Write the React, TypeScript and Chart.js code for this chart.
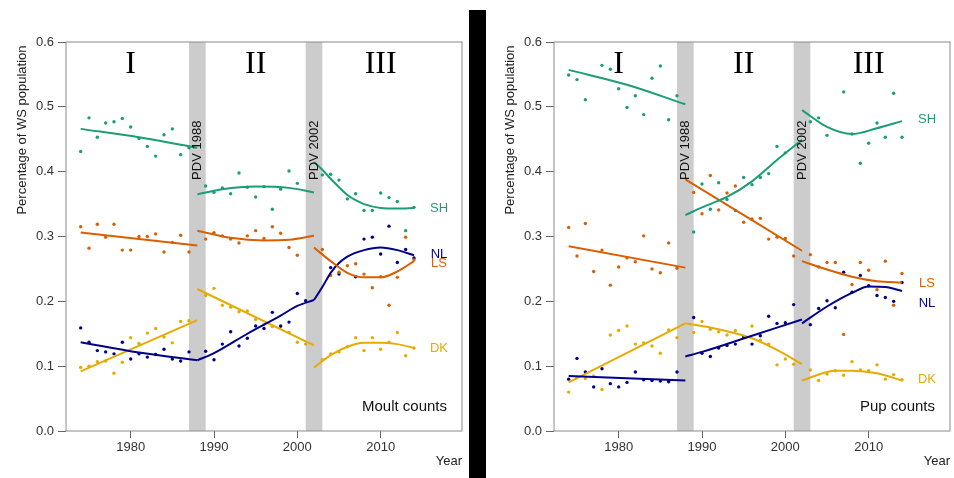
import React, { useEffect, useRef } from "react";
import { Chart, registerables } from "chart.js";
Chart.register(...registerables);

// ---------- data ----------
const years = [
  1974, 1975, 1976, 1977, 1978, 1979, 1980, 1981, 1982, 1983, 1984, 1985, 1986, 1987,
  1989, 1990, 1991, 1992, 1993, 1994, 1995, 1996, 1997, 1998, 1999, 2000, 2001,
  2003, 2004, 2005, 2006, 2007, 2008, 2009, 2010, 2011, 2012, 2013, 2014,
];

const moultSH = [.431, .483, .453, .475, .477, .482, .469, .451, .439, .424, .457, .466, .426, .437,
  .378, .368, .375, .366, .398, .376, .361, .377, .342, .373, .401, .382, null,
  .395, .396, .387, .358, .366, .340, .340, .367, .360, .354, .309, .345];
const moultLS = [.315, .282, .319, .299, .319, .279, .279, .300, .300, .304, .276, .291, .302, .276,
  .296, .306, .301, .296, .290, .301, .309, .297, .315, .305, .283, .271, null,
  .280, .240, .245, .255, .258, .242, .221, .238, .194, .237, .299, .264];
const moultNL = [.159, .137, .124, .122, .119, .137, .111, .119, .114, .118, .126, .111, .108, .122,
  .123, .110, .134, .153, .131, .143, .162, .158, .183, .162, .168, .212, .201,
  null, .252, .242, null, .238, .296, .299, .273, .316, .260, .280, .267];
const moultDK = [.098, .100, .107, .108, .089, .106, .144, .135, .151, .158, .145, .136, .169, .170,
  .209, .220, .194, .191, .184, .185, .172, .164, .161, .161, .152, .137, .134,
  .110, .119, .122, .130, .144, .124, .144, .126, .137, .152, .116, .128];

const pupSH = [.549, .542, .511, null, .564, .558, .528, .499, .517, .488, .544, .563, .480, .517,
  .307, .381, .342, .383, .357, .340, .391, .380, .391, .397, .439, .429, null,
  .477, .483, .456, null, .523, .458, .413, .444, .475, .453, .521, .453];
const pupLS = [.314, .270, .320, .246, .279, .225, .253, .267, .261, .301, .250, .244, .290, .251,
  .368, .335, .394, .341, .367, .378, .322, .327, .328, .296, .299, .297, .270,
  .272, .253, .260, .260, .149, .226, .260, .248, .218, .262, .194, .243];
const pupNL = [.080, .112, .091, .068, .096, .073, .068, .075, .091, .079, .078, .077, .076, .091,
  .175, .120, .115, .128, .132, .134, .145, .134, .147, .177, .166, .167, .195,
  .164, .189, .201, .190, .245, .214, .240, .224, .209, .206, .200, .229];
const pupDK = [.060, .083, .081, .085, .064, .148, .155, .162, .134, .136, .131, .120, .156, .144,
  .152, .169, .157, .153, .148, .155, .146, .162, .140, .134, .102, .111, .103,
  .094, .078, .088, .093, .086, .107, .094, .093, .102, .080, .087, .079];

// fitted curves: segments of [year, value]
const moultSHFit = [
  [[1974, .466], [1981, .453], [1988, .437]],
  [[1988, .365], [1991, .373], [1995, .377], [1999, .375], [2002, .368]],
  [[2002, .415], [2003, .403], [2004, .389], [2005, .376], [2006, .364], [2007, .356], [2008, .350], [2010, .344], [2012, .343], [2014, .344]],
];
const moultLSFit = [
  [[1974, .306], [1981, .296], [1988, .286]],
  [[1988, .309], [1992, .298], [1996, .294], [1999, .295], [2002, .301]],
  [[2002, .283], [2004, .262], [2006, .244], [2008, .237], [2010, .237], [2012, .246], [2014, .262]],
];
const moultNLFit = [
  [[1974, .137], [1981, .121], [1988, .109]],
  [[1988, .109], [1990, .120], [1994, .150], [1998, .178], [2000, .193], [2002, .202]],
  [[2002, .202], [2003, .222], [2004, .244], [2005, .259], [2006, .269], [2008, .279], [2010, .283], [2012, .279], [2014, .271]],
];
const moultDKFit = [
  [[1974, .092], [1988, .171]],
  [[1988, .219], [2002, .132]],
  [[2002, .098], [2004, .117], [2006, .130], [2008, .136], [2010, .136], [2012, .134], [2014, .128]],
];

const pupSHFit = [
  [[1974, .557], [1981, .534], [1988, .504]],
  [[1988, .333], [1990, .345], [1993, .361], [1996, .385], [1999, .418], [2002, .449]],
  [[2002, .495], [2005, .469], [2008, .458], [2011, .467], [2014, .478]],
];
const pupLSFit = [
  [[1974, .285], [1988, .252]],
  [[1988, .388], [2002, .278]],
  [[2002, .262], [2005, .249], [2008, .238], [2011, .231], [2014, .229]],
];
const pupNLFit = [
  [[1974, .085], [1988, .078]],
  [[1988, .115], [1990, .122], [1996, .147], [2002, .172]],
  [[2002, .166], [2005, .192], [2008, .213], [2010, .223], [2012, .222], [2014, .216]],
];
const pupDKFit = [
  [[1974, .075], [1988, .166]],
  [[1988, .166], [1990, .162], [1993, .154], [1996, .143], [1999, .125], [2002, .103]],
  [[2002, .078], [2006, .093], [2008, .093], [2011, .089], [2014, .078]],
];

const seriesNames = ["SH", "LS", "NL", "DK"];
const moultLabelY = [.344, .259, .273, .128];
const pupLabelY = [.480, .228, .197, .079];
const labelX = 2017;

const bands = [[1987, 1989], [2001, 2003]];
const pdvLabels = ["PDV 1988", "PDV 2002"];
const pdvX = [1988, 2002];
const pdvY = 0.433;
const periodNames = ["I", "II", "III"];
const periodX = [1980, 1995, 2010];
const periodY = 0.552;

const xTicks = [1980, 1990, 2000, 2010];
const xMin = 1972.24;
const xMax = 2019.76;
const yMin = 0;
const yMax = 0.6;

const colors: Record<string, string> = { SH: "#1B9E77", LS: "#D95F02", NL: "#00008B", DK: "#E6AB02" };
const SANS = '"Liberation Sans", Arial, Helvetica, sans-serif';

type PanelProps = {
  left: number;
  width: number;
  values: (number | null)[][];
  fits: number[][][][];
  labelY: number[];
  title: string;
};

function Panel({ left, width, values, fits, labelY, title }: PanelProps) {
  const ref = useRef<HTMLCanvasElement | null>(null);
  useEffect(() => {
    if (!ref.current) return;
    const datasets: any[] = [];
    seriesNames.forEach((name, si) => {
      fits[si].forEach((seg) => {
        datasets.push({
          label: name + " fit",
          data: seg.map(([x, y]) => ({ x, y })),
          showLine: true,
          borderColor: colors[name],
          backgroundColor: colors[name],
          borderWidth: 2,
          pointRadius: 0,
          cubicInterpolationMode: "monotone",
          fill: false,
        });
      });
    });
    seriesNames.forEach((name, si) => {
      const pts: { x: number; y: number }[] = [];
      years.forEach((yr, i) => {
        const v = values[si][i];
        if (v !== null && v !== undefined) pts.push({ x: yr, y: v });
      });
      datasets.push({
        label: name,
        data: pts,
        showLine: false,
        backgroundColor: colors[name],
        borderColor: colors[name],
        borderWidth: 0,
        pointRadius: 1.7,
      });
    });

    const decor = {
      id: "decor",
      beforeDatasetsDraw(chart: any) {
        const { ctx, chartArea: a, scales } = chart;
        const x = scales.x;
        ctx.save();
        ctx.fillStyle = "#CCCCCC";
        bands.forEach(([b0, b1]) => {
          const p0 = x.getPixelForValue(b0);
          const p1 = x.getPixelForValue(b1);
          ctx.fillRect(p0, a.top, p1 - p0, a.bottom - a.top);
        });
        ctx.strokeStyle = "#8a8a8a";
        ctx.lineWidth = 1;
        ctx.strokeRect(a.left, a.top, a.right - a.left, a.bottom - a.top);
        ctx.restore();
      },
      afterDraw(chart: any) {
        const { ctx, chartArea: a, scales } = chart;
        const x = scales.x;
        const y = scales.y;
        ctx.save();
        // Roman numerals
        ctx.fillStyle = "#000";
        ctx.font = '32px "Liberation Serif", "Times New Roman", serif';
        ctx.textAlign = "center";
        ctx.textBaseline = "alphabetic";
        periodNames.forEach((t, i) => {
          ctx.fillText(t, x.getPixelForValue(periodX[i]), y.getPixelForValue(periodY));
        });
        // PDV labels
        ctx.font = "13px " + SANS;
        ctx.textBaseline = "middle";
        ctx.fillStyle = "#111";
        pdvLabels.forEach((t, i) => {
          ctx.save();
          ctx.translate(x.getPixelForValue(pdvX[i]), y.getPixelForValue(pdvY));
          ctx.rotate(-Math.PI / 2);
          ctx.textAlign = "center";
          ctx.fillText(t, 0, 0);
          ctx.restore();
        });
        // series labels
        ctx.font = "13px " + SANS;
        ctx.textAlign = "center";
        seriesNames.forEach((name, si) => {
          ctx.fillStyle = colors[name];
          ctx.fillText(name, x.getPixelForValue(labelX), y.getPixelForValue(labelY[si]));
        });
        // panel title
        ctx.fillStyle = "#111";
        ctx.font = "15px " + SANS;
        ctx.textAlign = "right";
        ctx.fillText(title, a.right - 15, a.bottom - 24);
        // x title
        ctx.font = "13px " + SANS;
        ctx.fillStyle = "#222";
        ctx.fillText("Year", a.right, 461);
        // y title
        ctx.save();
        ctx.translate(a.left - 44, 130);
        ctx.rotate(-Math.PI / 2);
        ctx.textAlign = "center";
        ctx.fillText("Percentage of WS population", 0, 0);
        ctx.restore();
        ctx.restore();
      },
    };

    const chart = new Chart(ref.current, {
      type: "scatter",
      data: { datasets },
      options: {
        responsive: false,
        animation: false,
        events: [],
        layout: { padding: { top: 42, right: width - 462, left: 0, bottom: 0 } },
        plugins: { legend: { display: false }, tooltip: { enabled: false } },
        scales: {
          x: {
            type: "linear",
            min: xMin,
            max: xMax,
            afterBuildTicks: (s: any) => {
              s.ticks = xTicks.map((v) => ({ value: v }));
            },
            afterFit: (s: any) => {
              s.height = 47;
            },
            ticks: {
              autoSkip: false,
              maxRotation: 0,
              padding: 2,
              color: "#333",
              font: { family: SANS, size: 13 },
              callback: (v: any) => String(v),
            },
            grid: { display: true, drawOnChartArea: false, drawTicks: true, tickLength: 7, color: "#666" },
            border: { display: false },
          },
          y: {
            type: "linear",
            min: yMin,
            max: yMax,
            afterFit: (s: any) => {
              s.width = 66;
            },
            ticks: {
              stepSize: 0.1,
              padding: 4,
              color: "#333",
              font: { family: SANS, size: 13 },
              callback: (v: any) => Number(v).toFixed(1),
            },
            grid: { display: true, drawOnChartArea: false, drawTicks: true, tickLength: 8, color: "#666" },
            border: { display: false },
          },
        },
      },
      plugins: [decor],
    } as any);
    return () => chart.destroy();
  }, []);
  return (
    <canvas
      ref={ref}
      width={width}
      height={478}
      style={{ position: "absolute", left, top: 0, width, height: 478, display: "block" }}
    />
  );
}

export default function App() {
  return (
    <div style={{ position: "fixed", left: 0, top: 0, width: 954, height: 478, background: "#fff", overflow: "hidden" }}>
      <Panel
        left={0}
        width={470}
        values={[moultSH, moultLS, moultNL, moultDK]}
        fits={[moultSHFit, moultLSFit, moultNLFit, moultDKFit]}
        labelY={moultLabelY}
        title="Moult counts"
      />
      <div style={{ position: "absolute", left: 469, top: 10, width: 17, height: 468, background: "#000" }} />
      <Panel
        left={488}
        width={466}
        values={[pupSH, pupLS, pupNL, pupDK]}
        fits={[pupSHFit, pupLSFit, pupNLFit, pupDKFit]}
        labelY={pupLabelY}
        title="Pup counts"
      />
    </div>
  );
}
